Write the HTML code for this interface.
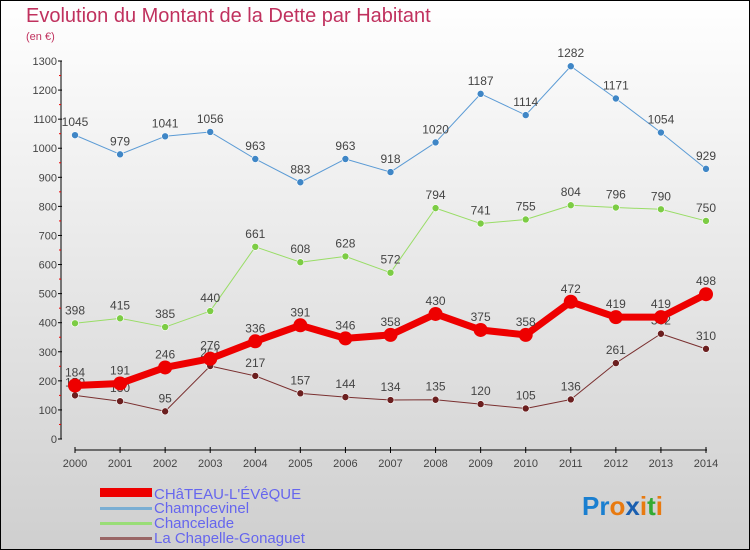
<!DOCTYPE html>
<html><head><meta charset="utf-8"><style>
body{margin:0;width:750px;height:550px;overflow:hidden;font-family:"Liberation Sans",sans-serif}
svg{display:block}
</style></head><body>
<svg id="c" width="750" height="550" xmlns="http://www.w3.org/2000/svg">
<defs><linearGradient id="bg" x1="0" y1="0" x2="0" y2="1"><stop offset="0" stop-color="#ffffff"/><stop offset="1" stop-color="#cfcfcf"/></linearGradient></defs>
<rect x="0.5" y="0.5" width="749" height="549" fill="url(#bg)" stroke="#000"/>
<text x="26" y="22" font-size="20" fill="#c0315e">Evolution du Montant de la Dette par Habitant</text>
<text x="26" y="40" font-size="11" fill="#c0315e">(en €)</text>
<g id="axes"></g><g id="series"></g>
<g>
<rect x="100" y="488" width="52" height="9" fill="#e00"/>
<text x="154" y="499" font-size="15" fill="#6666ee">CHâTEAU-L'ÉVêQUE</text>
<rect x="100" y="507" width="52" height="3" fill="#7aaed3"/>
<text x="154" y="513" font-size="15" fill="#6666ee">Champcevinel</text>
<rect x="100" y="522" width="52" height="3" fill="#99dd77"/>
<text x="154" y="528" font-size="15" fill="#6666ee">Chancelade</text>
<rect x="100" y="537" width="52" height="3" fill="#996666"/>
<text x="154" y="543" font-size="15" fill="#6666ee">La Chapelle-Gonaguet</text>
</g>
<text x="582" y="515" font-size="26" font-weight="bold"><tspan fill="#1a7fd0">Pr</tspan><tspan fill="#e87a10">o</tspan><tspan fill="#1a5fb0">x</tspan><tspan fill="#e87a10">i</tspan><tspan fill="#33aa33">t</tspan><tspan fill="#e87a10">i</tspan></text>
</svg>
<script>
const years=[2000,2001,2002,2003,2004,2005,2006,2007,2008,2009,2010,2011,2012,2013,2014];
const yTicks=[0,100,200,300,400,500,600,700,800,900,1000,1100,1200,1300];
const chateau=[184,191,246,276,336,391,346,358,430,375,358,472,419,419,498];
const champcevinel=[1045,979,1041,1056,963,883,963,918,1020,1187,1114,1282,1171,1054,929];
const chancelade=[398,415,385,440,661,608,628,572,794,741,755,804,796,790,750];
const chapelle=[150,130,95,251,217,157,144,134,135,120,105,136,261,362,310];
const NS="http://www.w3.org/2000/svg";
function X(i){return 75+i*(631/14);}
function Y(v){return 439-v*(378/1300);}
function mk(p,t,a){const e=document.createElementNS(NS,t);for(const k in a)e.setAttribute(k,a[k]);p.appendChild(e);return e;}
const ax=document.getElementById('axes');
let e=mk(ax,'line',{x1:61,y1:Y(1300),x2:61,y2:Y(0),stroke:'#000'});


e=mk(ax,'line',{x1:75,y1:450,x2:707,y2:450,stroke:'#000'});


yTicks.forEach(v=>{
 mk(ax,'line',{x1:58,y1:Y(v),x2:62,y2:Y(v),stroke:'#000'});
 if(v<1300)mk(ax,'line',{x1:59,y1:Y(v+50),x2:61,y2:Y(v+50),stroke:'#e00'});
 const t=mk(ax,'text',{x:57,y:Y(v)+4,'font-size':11,'text-anchor':'end',fill:'#444'});t.textContent=v;
 
 
});
years.forEach((yr,i)=>{
 mk(ax,'line',{x1:X(i),y1:447,x2:X(i),y2:453,stroke:'#000'});
 const t=mk(ax,'text',{x:X(i),y:467,'font-size':11,'text-anchor':'middle',fill:'#444'});t.textContent=yr;
 
 
});
const sg=document.getElementById('series');
function draw(data,color,dot,w,r,name){
 const g=mk(sg,'g',{});
 
 
 mk(g,'polyline',{points:data.map((v,i)=>X(i)+','+Y(v)).join(' '),fill:'none',stroke:color,'stroke-width':w,'stroke-linejoin':'round'});
 data.forEach((v,i)=>{
  const c=mk(g,'circle',{cx:X(i),cy:Y(v),r:r,fill:dot,stroke:'#fff','stroke-width':r>4?0:0.6});
  
  
  const t=mk(g,'text',{x:X(i),y:Y(v)-9,'font-size':12,'text-anchor':'middle',fill:'#444'});t.textContent=v;
  
  
 });
}
draw(champcevinel,'#5b9bd5','#3f86c6',1,3.5,'champcevinel');
draw(chancelade,'#99dd66','#7ccc44',1,3.5,'chancelade');
draw(chapelle,'#7a3030','#6b1f1f',1,3.5,'chapelle');
draw(chateau,'#ee0000','#ee0000',7,7,'chateau');
</script>
</body></html>
